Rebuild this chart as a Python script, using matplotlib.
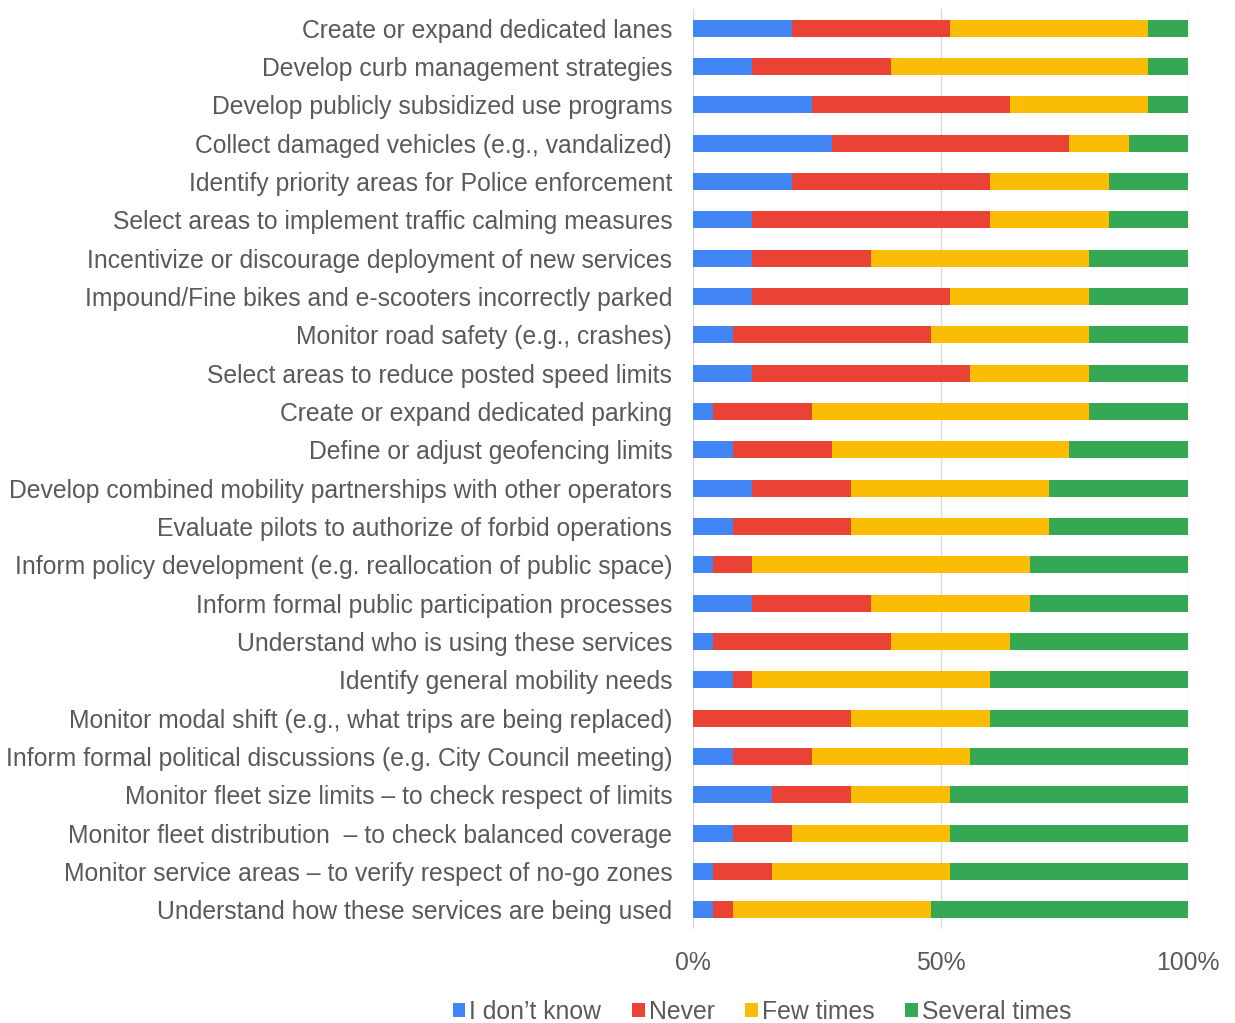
import matplotlib
matplotlib.use("Agg")
import matplotlib.pyplot as plt
from matplotlib.patches import Patch
import numpy as np

plt.rcParams['font.family'] = ['Liberation Sans', 'DejaVu Sans']

categories = [
    "Create or expand dedicated lanes",
    "Develop curb management strategies",
    "Develop publicly subsidized use programs",
    "Collect damaged vehicles (e.g., vandalized)",
    "Identify priority areas for Police enforcement",
    "Select areas to implement traffic calming measures",
    "Incentivize or discourage deployment of new services",
    "Impound/Fine bikes and e-scooters incorrectly parked",
    "Monitor road safety (e.g., crashes)",
    "Select areas to reduce posted speed limits",
    "Create or expand dedicated parking",
    "Define or adjust geofencing limits",
    "Develop combined mobility partnerships with other operators",
    "Evaluate pilots to authorize of forbid operations",
    "Inform policy development (e.g. reallocation of public space)",
    "Inform formal public participation processes",
    "Understand who is using these services",
    "Identify general mobility needs",
    "Monitor modal shift (e.g., what trips are being replaced)",
    "Inform formal political discussions (e.g. City Council meeting)",
    "Monitor fleet size limits \u2013 to check respect of limits",
    "Monitor fleet distribution  \u2013 to check balanced coverage",
    "Monitor service areas \u2013 to verify respect of no-go zones",
    "Understand how these services are being used",
]

dont_know = [20, 12, 24, 28, 20, 12, 12, 12, 8, 12, 4, 8, 12, 8, 4, 12, 4, 8, 0, 8, 16, 8, 4, 4]
never     = [32, 28, 40, 48, 40, 48, 24, 40, 40, 44, 20, 20, 20, 24, 8, 24, 36, 4, 32, 16, 16, 12, 12, 4]
few_times = [40, 52, 28, 12, 24, 24, 44, 28, 32, 24, 56, 48, 40, 40, 56, 32, 24, 48, 28, 32, 20, 32, 36, 40]
several   = [8, 8, 8, 12, 16, 16, 20, 20, 20, 20, 20, 24, 28, 28, 32, 32, 36, 40, 40, 44, 48, 48, 48, 52]

series_names = ["I don\u2019t know", "Never", "Few times", "Several times"]
colors = ["#4285F4", "#EA4335", "#FBBC04", "#34A853"]
text_color = "#595959"
fs = 17.8

fig = plt.figure(figsize=(12.35, 10.23), dpi=100)
ax = fig.add_axes([693/1235, 1 - 929/1023, (1188-693)/1235, (929-9)/1023])

data = np.array([dont_know, never, few_times, several], dtype=float)
totals = data.sum(axis=0)
pct = data / totals * 100
y = np.arange(len(categories))
left = np.zeros(len(categories))
for i in range(4):
    ax.barh(y, pct[i], left=left, height=0.45, color=colors[i], edgecolor='none', zorder=3)
    left += pct[i]

ax.set_ylim(len(categories) - 0.5, -0.5)
ax.set_xlim(0, 100)
ax.set_yticks(y)
ax.set_yticklabels(categories, fontsize=fs, color=text_color)
ax.set_xticks([0, 50, 100])
ax.set_xticklabels(["0%", "50%", "100%"], fontsize=fs, color=text_color)
ax.tick_params(axis='both', length=0)
ax.tick_params(axis='y', pad=15)
ax.tick_params(axis='x', pad=16)
for s in ax.spines.values():
    s.set_visible(False)
ax.xaxis.grid(True, color="#d9d9d9", linewidth=1, zorder=0)
ax.set_axisbelow(True)

handles = [Patch(facecolor=c, edgecolor='none') for c in colors]
fig.legend(handles, series_names, loc='center', bbox_to_anchor=(762/1235, 1 - 1012/1023),
           ncol=4, frameon=False, fontsize=fs, handlelength=0.52, handleheight=0.52,
           handletextpad=0.15, columnspacing=1.25, labelcolor=text_color)

fig.savefig("out.png", dpi=100)
